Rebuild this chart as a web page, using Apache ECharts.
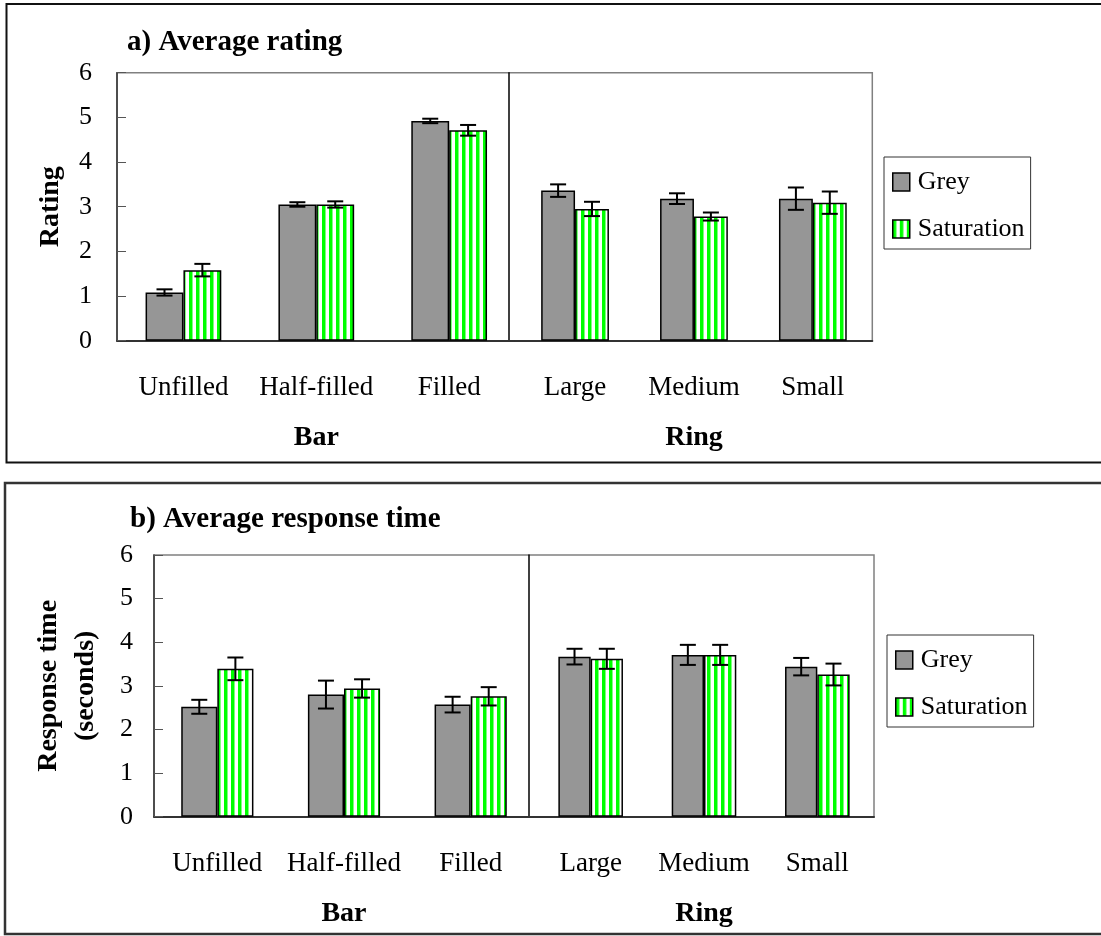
<!DOCTYPE html>
<html>
<head>
<meta charset="utf-8">
<script src="https://cdn.jsdelivr.net/npm/echarts@6/dist/echarts.min.js"></script>
<style>
html,body{margin:0;padding:0;background:#fff;}
#chart{width:1101px;height:936px;}
</style>
</head>
<body>
<div id="chart"></div>
<script>
// ---- data ----
var barCategories = ['Unfilled', 'Half-filled', 'Filled'];
var ringCategories = ['Large', 'Medium', 'Small'];
var yTicks = [0, 1, 2, 3, 4, 5, 6];

var ratingGrey    = [1.08, 3.05, 4.92, 3.36, 3.18, 3.18];
var ratingGreyErr = [0.07, 0.05, 0.05, 0.14, 0.12, 0.25];
var ratingSat     = [1.58, 3.05, 4.71, 2.95, 2.78, 3.09];
var ratingSatErr  = [0.14, 0.07, 0.12, 0.16, 0.09, 0.25];

var rtGrey    = [2.52, 2.80, 2.57, 3.67, 3.71, 3.44];
var rtGreyErr = [0.16, 0.32, 0.18, 0.18, 0.23, 0.20];
var rtSat     = [3.39, 2.94, 2.76, 3.62, 3.71, 3.26];
var rtSatErr  = [0.26, 0.21, 0.21, 0.23, 0.23, 0.25];

// ---- styles ----
var FONT = "'Liberation Serif', 'Times New Roman', serif";
var GAP = 0.43;
var stripe = document.createElement('canvas');
stripe.width = 7; stripe.height = 4;
var sctx = stripe.getContext('2d');
sctx.fillStyle = '#ffffff'; sctx.fillRect(0, 0, 7, 4);
sctx.fillStyle = '#00ff00'; sctx.fillRect(0, 0, 3.5, 4);
var satColor = { image: stripe, repeat: 'repeat' };
var greyColor = '#969696';

function part(arr, from, to) { return arr.slice(from, to); }
function errRows(vals, errs, from, to) {
  var rows = [];
  for (var i = from; i < to; i++) rows.push([i - from, vals[i] - errs[i], vals[i] + errs[i]]);
  return rows;
}
function errRender(sign) {
  return function (params, api) {
    var c = api.value(0);
    var lo = api.coord([c, api.value(1)]);
    var hi = api.coord([c, api.value(2)]);
    var catW = api.size([1, 0])[0];
    var bw = catW * (1 - GAP) / 2;
    var x = lo[0] + sign * bw / 2;
    var cap = 8;
    var st = { stroke: '#000', lineWidth: 2 };
    return { type: 'group', children: [
      { type: 'line', shape: { x1: x, y1: lo[1], x2: x, y2: hi[1] }, style: st },
      { type: 'line', shape: { x1: x - cap, y1: lo[1], x2: x + cap, y2: lo[1] }, style: st },
      { type: 'line', shape: { x1: x - cap, y1: hi[1], x2: x + cap, y2: hi[1] }, style: st }
    ]};
  };
}

// grids: 0 top frame, 1 top-left, 2 top-right, 3 bottom frame, 4 bottom-left, 5 bottom-right
var grids = [
  { left: 117, top: 72.7, width: 755.3, height: 268, show: true, borderColor: '#808080', borderWidth: 1.5 },
  { left: 117, top: 72.7, width: 398.6, height: 268 },
  { left: 515.6, top: 72.7, width: 356.7, height: 268 },
  { left: 154, top: 555, width: 720, height: 261.7, show: true, borderColor: '#808080', borderWidth: 1.5 },
  { left: 154, top: 555, width: 380, height: 261.7 },
  { left: 534, top: 555, width: 340, height: 261.7 }
];

function catAxis(gridIndex, cats, name) {
  return {
    type: 'category', gridIndex: gridIndex, data: cats,
    axisTick: { show: false },
    axisLine: { show: true, lineStyle: { color: '#333', width: 2 } },
    axisLabel: { interval: 0, fontSize: 27, color: '#000', fontFamily: FONT, margin: 34 },
    name: name, nameLocation: 'middle', nameGap: 83,
    nameTextStyle: { fontSize: 28, fontWeight: 'bold', color: '#000', fontFamily: FONT }
  };
}
function hiddenX(gridIndex) { return { type: 'value', gridIndex: gridIndex, show: false }; }
function hiddenY(gridIndex) { return { type: 'value', gridIndex: gridIndex, show: false }; }
function leftY(gridIndex, name, nameGap, margin) {
  return {
    type: 'value', gridIndex: gridIndex, min: yTicks[0], max: yTicks[yTicks.length - 1], interval: 1,
    axisLine: { show: true, lineStyle: { color: '#333', width: 1.5 } },
    axisTick: { show: true, inside: true, length: 9, lineStyle: { color: '#555', width: 1 } },
    splitLine: { show: false },
    axisLabel: { fontSize: 26, color: '#000', fontFamily: FONT, margin: margin },
    name: name, nameLocation: 'middle', nameGap: nameGap,
    nameTextStyle: { fontSize: 28, fontWeight: 'bold', color: '#000', fontFamily: FONT, lineHeight: 37 }
  };
}
function dividerY(gridIndex, offset) {
  return {
    type: 'value', gridIndex: gridIndex, min: yTicks[0], max: yTicks[yTicks.length - 1], interval: 1,
    offset: offset,
    axisLine: { show: true, lineStyle: { color: '#000', width: 1.5 } },
    axisTick: { show: false }, axisLabel: { show: false }, splitLine: { show: false }
  };
}

var xAxes = [
  hiddenX(0), catAxis(1, barCategories, 'Bar'), catAxis(2, ringCategories, 'Ring'),
  hiddenX(3), catAxis(4, barCategories, 'Bar'), catAxis(5, ringCategories, 'Ring')
];
var yAxes = [
  hiddenY(0), leftY(1, 'Rating', 48, 25), dividerY(2, 6.6),
  hiddenY(3), leftY(4, 'Response time\n(seconds)', 50, 21), dividerY(5, 5)
];

function barSeries(name, axisIdx, data, color) {
  return {
    name: name, type: 'bar', xAxisIndex: axisIdx, yAxisIndex: axisIdx, data: data,
    barGap: '0%', barCategoryGap: (GAP * 100) + '%',
    itemStyle: { color: color, borderColor: '#000', borderWidth: 1.5 },
    emphasis: { disabled: true }
  };
}
function errSeries(axisIdx, rows, sign) {
  return {
    name: 'err', type: 'custom', xAxisIndex: axisIdx, yAxisIndex: axisIdx,
    renderItem: errRender(sign), data: rows, z: 10,
    encode: { x: 0, y: [1, 2] }, silent: true
  };
}

var series = [];
[[1, 0, 3], [2, 3, 6]].forEach(function (s) {
  var ax = s[0], a = s[1], b = s[2];
  series.push(barSeries('Grey', ax, part(ratingGrey, a, b), greyColor));
  series.push(barSeries('Saturation', ax, part(ratingSat, a, b), satColor));
  series.push(errSeries(ax, errRows(ratingGrey, ratingGreyErr, a, b), -1));
  series.push(errSeries(ax, errRows(ratingSat, ratingSatErr, a, b), 1));
});
[[4, 0, 3], [5, 3, 6]].forEach(function (s) {
  var ax = s[0], a = s[1], b = s[2];
  series.push(barSeries('Grey', ax, part(rtGrey, a, b), greyColor));
  series.push(barSeries('Saturation', ax, part(rtSat, a, b), satColor));
  series.push(errSeries(ax, errRows(rtGrey, rtGreyErr, a, b), -1));
  series.push(errSeries(ax, errRows(rtSat, rtSatErr, a, b), 1));
});

function legendAt(left, top) {
  return {
    data: ['Grey', 'Saturation'], orient: 'vertical', left: left, top: top,
    icon: 'rect', itemWidth: 17, itemHeight: 18, itemGap: 21,
    padding: [12, 6, 7, 8],
    borderColor: '#333', borderWidth: 1, backgroundColor: '#fff',
    textStyle: { fontSize: 26, color: '#000', fontFamily: FONT, padding: [0, 0, 0, 3] },
    itemStyle: { borderColor: '#000', borderWidth: 1.5 },
    selectedMode: false
  };
}

var option = {
  animation: false,
  backgroundColor: '#fff',
  textStyle: { fontFamily: FONT },
  title: [
    { text: 'a) Average rating', left: 122, top: 23,
      textStyle: { fontSize: 29, fontWeight: 'bold', color: '#000', fontFamily: FONT } },
    { text: 'b) Average response time', left: 125, top: 500,
      textStyle: { fontSize: 29, fontWeight: 'bold', color: '#000', fontFamily: FONT } }
  ],
  legend: [legendAt(884, 157), legendAt(887, 635)],
  grid: grids,
  xAxis: xAxes,
  yAxis: yAxes,
  series: series,
  graphic: [
    { type: 'rect', shape: { x: 6.5, y: 4, width: 1120, height: 458.5 },
      style: { fill: 'none', stroke: '#111', lineWidth: 2 }, z: 100, silent: true },
    { type: 'rect', shape: { x: 5, y: 483, width: 1120, height: 451 },
      style: { fill: 'none', stroke: '#333', lineWidth: 2.5 }, z: 100, silent: true }
  ]
};

var chart = echarts.init(document.getElementById('chart'), null, { renderer: 'canvas' });
chart.setOption(option);
</script>
</body>
</html>
